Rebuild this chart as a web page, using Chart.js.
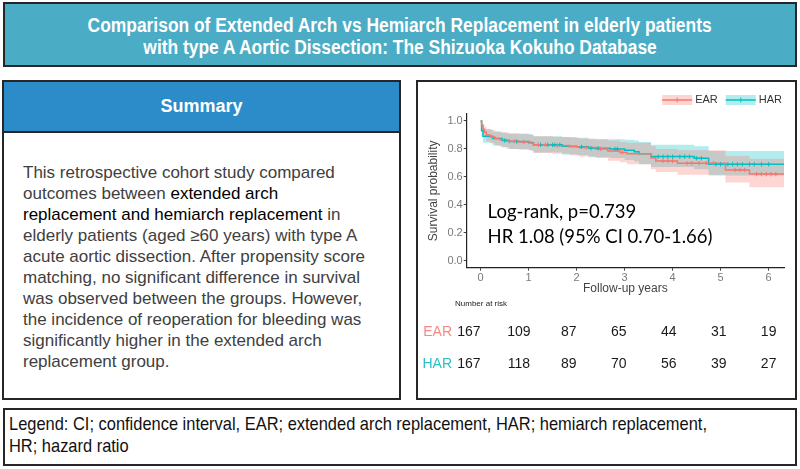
<!DOCTYPE html>
<html><head><meta charset="utf-8">
<script src="https://cdn.jsdelivr.net/npm/chart.js@4/dist/chart.umd.min.js"></script>
<style>
html,body{margin:0;padding:0;background:#fff;width:800px;height:469px;overflow:hidden;font-family:"Liberation Sans",Arial,sans-serif;}
.box{position:absolute;box-sizing:border-box;border:2px solid #262626;}
#title{left:3px;top:2px;width:794px;height:65px;background:#4BACC6;color:#fff;font-family:"Liberation Sans Narrow","Arial Narrow","Liberation Sans",sans-serif;font-weight:bold;font-size:20px;text-align:center;line-height:22px;padding-top:10px;}
#title span{display:inline-block;transform:scaleX(0.87);transform-origin:50% 50%;white-space:nowrap;}
#summary{left:2px;top:80px;width:399px;height:320px;}
#sumHead{position:absolute;left:0;top:0;right:0;height:49px;background:#2B8CC9;border-bottom:2px solid #262626;color:#fff;font-weight:bold;font-size:18px;text-align:center;line-height:49px;}
#sumBody{position:absolute;left:19px;top:80px;width:375px;font-size:17px;line-height:21px;color:#404040;white-space:nowrap;}
#sumBody b{font-weight:normal;color:#000;}
#panel{left:416px;top:80px;width:381px;height:320px;}
#chartWrap{position:absolute;left:418px;top:82px;width:377px;height:316px;}
#legendBox{left:3px;top:408px;width:794px;height:58px;font-family:"Liberation Sans Narrow","Arial Narrow","Liberation Sans",sans-serif;font-size:19px;line-height:22px;color:#111;padding:3px 0 0 4px;}
#legendBox span{display:inline-block;transform:scaleX(0.865);transform-origin:0 50%;white-space:nowrap;}
</style></head>
<body>
<div id="title" class="box"><span>Comparison of Extended Arch vs Hemiarch Replacement in elderly patients</span><br><span>with type A Aortic Dissection: The Shizuoka Kokuho Database</span></div>
<div id="summary" class="box">
  <div id="sumHead">Summary</div>
  <div id="sumBody">This retrospective cohort study compared<br>outcomes between <b>extended arch</b><br><b>replacement and hemiarch replacement</b> in<br>elderly patients (aged ≥60 years) with type A<br>acute aortic dissection. After propensity score<br>matching, no significant difference in survival<br>was observed between the groups. However,<br>the incidence of reoperation for bleeding was<br>significantly higher in the extended arch<br>replacement group.</div>
</div>
<div id="panel" class="box"></div>
<div id="chartWrap"><canvas id="km" width="377" height="316"></canvas></div>
<div id="legendBox" class="box"><span>Legend: CI; confidence interval, EAR; extended arch replacement, HAR; hemiarch replacement,</span><br><span>HR; hazard ratio</span></div>
<script>
// ---- data ----
const groups = ['EAR', 'HAR'];
const years = [0, 1, 2, 3, 4, 5, 6];
const yTicks = [0, 0.2, 0.4, 0.6, 0.8, 1.0];

const earTime  = [0, 0.02, 0.05, 0.08, 0.12, 0.2, 0.3, 0.4, 0.55, 0.8, 1.05, 1.1, 1.5, 1.85, 2.05, 2.4, 2.65, 2.9, 3.05, 3.55, 3.65, 4.1, 5.1, 5.6, 6.32];
const earSurv  = [1.0, 0.97, 0.94, 0.92, 0.90, 0.885, 0.875, 0.865, 0.855, 0.85, 0.84, 0.83, 0.825, 0.815, 0.81, 0.80, 0.785, 0.775, 0.765, 0.735, 0.714, 0.698, 0.65, 0.62, 0.62];
const earLower = [1.0, 0.94, 0.905, 0.88, 0.855, 0.84, 0.825, 0.815, 0.80, 0.795, 0.785, 0.77, 0.765, 0.755, 0.745, 0.735, 0.715, 0.705, 0.69, 0.655, 0.635, 0.615, 0.56, 0.525, 0.525];
const earUpper = [1.0, 0.995, 0.975, 0.96, 0.945, 0.935, 0.925, 0.92, 0.91, 0.905, 0.90, 0.89, 0.885, 0.88, 0.875, 0.87, 0.86, 0.85, 0.845, 0.82, 0.80, 0.79, 0.75, 0.73, 0.73];

const harTime  = [0, 0.02, 0.05, 0.25, 0.45, 0.6, 1.0, 1.1, 1.7, 2.0, 2.25, 2.7, 3.0, 3.2, 3.3, 3.55, 4.45, 4.75, 6.32];
const harSurv  = [1.0, 0.93, 0.89, 0.875, 0.86, 0.853, 0.845, 0.83, 0.82, 0.815, 0.805, 0.80, 0.79, 0.78, 0.765, 0.745, 0.733, 0.69, 0.69];
const harLower = [1.0, 0.89, 0.845, 0.825, 0.81, 0.80, 0.79, 0.775, 0.76, 0.755, 0.74, 0.735, 0.72, 0.71, 0.69, 0.67, 0.655, 0.61, 0.61];
const harUpper = [1.0, 0.97, 0.94, 0.925, 0.915, 0.91, 0.905, 0.89, 0.885, 0.88, 0.87, 0.87, 0.865, 0.86, 0.85, 0.83, 0.82, 0.785, 0.785];

const earCensor = [0.6, 0.7, 0.9, 1.2, 1.35, 1.6, 2.2, 2.5, 2.95, 3.8, 3.9, 4.0, 4.3, 4.4, 4.55, 4.7, 4.85, 5.3, 5.4, 5.5, 5.75, 5.85, 5.95, 6.05, 6.15];
const harCensor = [0.5, 0.75, 1.25, 1.4, 1.5, 1.55, 1.65, 2.1, 2.3, 2.45, 2.8, 2.85, 3.7, 3.8, 3.9, 4.0, 4.15, 4.25, 4.35, 4.5, 4.6, 4.9, 5.0, 5.15, 5.25, 5.35, 5.45, 5.6, 5.7, 5.85, 6.0];

const riskEAR = [167, 109, 87, 65, 44, 31, 19];
const riskHAR = [167, 118, 89, 70, 56, 39, 27];
const annotLines = ['Log-rank, p=0.739', 'HR 1.08 (95% CI 0.70-1.66)'];

// ---- styles ----
const lineCol = {EAR: '#F8766D', HAR: '#00BFC4'};
const bandCol = {EAR: 'rgba(248,118,109,0.3)', HAR: 'rgba(0,191,196,0.3)'};

function pts(t, v) { return t.map((x, i) => ({x: x, y: v[i]})); }
function survAt(t, s, x) { let v = s[0]; for (let i = 0; i < t.length; i++) if (t[i] <= x) v = s[i]; return v; }

const series = {
  EAR: {t: earTime, s: earSurv, lo: earLower, hi: earUpper, c: earCensor},
  HAR: {t: harTime, s: harSurv, lo: harLower, hi: harUpper, c: harCensor}
};

const datasets = [];
groups.forEach(g => {
  const d = series[g];
  datasets.push({label: g + ' upper', data: pts(d.t, d.hi), stepped: 'before', borderWidth: 0, pointRadius: 0, fill: false, order: 10});
  datasets.push({label: g + ' lower', data: pts(d.t, d.lo), stepped: 'before', borderWidth: 0, pointRadius: 0, fill: '-1', backgroundColor: bandCol[g], order: 10});
});
groups.forEach(g => {
  const d = series[g];
  datasets.push({label: g, data: pts(d.t, d.s), stepped: 'before', borderColor: lineCol[g], borderWidth: 1.5, pointRadius: 0, fill: false, order: 2});
});
groups.forEach(g => {
  const d = series[g];
  datasets.push({label: g + ' censor', data: d.c.map(x => ({x: x, y: survAt(d.t, d.s, x)})), showLine: false,
    pointStyle: 'cross', pointRadius: 2.2, pointBorderWidth: 1, pointBorderColor: lineCol[g], pointBackgroundColor: lineCol[g], order: 1});
});

const overlay = {
  id: 'overlay',
  afterDraw(chart) {
    const {ctx, chartArea: ca, scales: {x, y}} = chart;
    ctx.save();
    // annotation text
    let fs = 21;
    ctx.font = fs + 'px Lato';
    const w = ctx.measureText(annotLines[1]).width;
    fs = fs * 225 / w;
    ctx.font = fs.toFixed(2) + 'px Lato';
    ctx.fillStyle = '#000';
    ctx.textAlign = 'left';
    ctx.textBaseline = 'middle';
    const ax = x.getPixelForValue(0) + 7;
    ctx.fillText(annotLines[0], ax, y.getPixelForValue(0.35));
    ctx.fillText(annotLines[1], ax, y.getPixelForValue(0.17));

    // legend (top right)
    ctx.font = '11px "Liberation Sans"';
    let right = ca.right - 2;
    const ly = 18;
    for (let i = groups.length - 1; i >= 0; i--) {
      const g = groups[i];
      const tw = ctx.measureText(g).width;
      ctx.fillStyle = '#333';
      ctx.textAlign = 'left';
      ctx.fillText(g, right - tw, ly);
      const kx = right - tw - 3 - 30;
      ctx.fillStyle = bandCol[g];
      ctx.fillRect(kx, ly - 5, 30, 10);
      ctx.strokeStyle = lineCol[g];
      ctx.lineWidth = 1.5;
      ctx.beginPath(); ctx.moveTo(kx, ly); ctx.lineTo(kx + 30, ly); ctx.stroke();
      ctx.lineWidth = 1;
      ctx.beginPath(); ctx.moveTo(kx + 15, ly - 2.5); ctx.lineTo(kx + 15, ly + 2.5); ctx.stroke();
      right = kx - 8;
    }

    // number at risk table
    ctx.fillStyle = '#222';
    ctx.font = '8px "Liberation Sans"';
    ctx.textAlign = 'left';
    ctx.fillText('Number at risk', 37, 222);
    const left = x.getPixelForValue(years[0]) - 11.7;
    const rgt = x.getPixelForValue(years[years.length - 1]);
    const rows = [{g: 'EAR', v: riskEAR, yy: 250}, {g: 'HAR', v: riskHAR, yy: 282}];
    rows.forEach(r => {
      ctx.font = '14px "Liberation Sans"';
      ctx.textAlign = 'right';
      ctx.fillStyle = r.g === 'EAR' ? '#F58A84' : '#2BBFC4';
      ctx.fillText(r.g, 34, r.yy);
      ctx.textAlign = 'center';
      ctx.fillStyle = '#1a1a1a';
      r.v.forEach((n, i) => {
        const px = left + (rgt - left) * (years[i] - years[0]) / (years[years.length - 1] - years[0]);
        ctx.fillText(String(n), px, r.yy);
      });
    });
    ctx.restore();
  }
};

new Chart(document.getElementById('km').getContext('2d'), {
  type: 'line',
  data: {datasets: datasets},
  options: {
    responsive: false, animation: false, devicePixelRatio: 1,
    layout: {padding: {top: 32, right: 11, bottom: 100.3, left: 0}},
    plugins: {legend: {display: false}, tooltip: {enabled: false}},
    scales: {
      x: {
        type: 'linear', min: -0.29, max: 6.32,
        afterBuildTicks: s => { s.ticks = years.map(v => ({value: v})); },
        afterFit: s => { s.height = 30; },
        ticks: {color: '#7a7a7a', font: {size: 11, family: 'Liberation Sans'}, padding: 1, maxRotation: 0, autoSkip: false, callback: v => String(v)},
        grid: {display: true, drawOnChartArea: false, drawTicks: true, tickLength: 3, color: '#444'},
        border: {display: true, color: '#222', width: 1.2},
        title: {display: true, text: 'Follow-up years', color: '#444', font: {size: 12, family: 'Liberation Sans'}, padding: {top: 0, bottom: 2}}
      },
      y: {
        type: 'linear', min: -0.05, max: 1.05,
        afterBuildTicks: s => { s.ticks = yTicks.map(v => ({value: v})); },
        afterFit: s => { s.width = 48.7; },
        ticks: {color: '#7a7a7a', font: {size: 11, family: 'Liberation Sans'}, padding: 1, autoSkip: false, callback: v => Number(v).toFixed(1)},
        grid: {display: true, drawOnChartArea: false, drawTicks: true, tickLength: 3, color: '#444'},
        border: {display: true, color: '#222', width: 1.2},
        title: {display: true, text: 'Survival probability', color: '#444', font: {size: 12, family: 'Liberation Sans'}, padding: {top: 8, bottom: 0}}
      }
    }
  },
  plugins: [overlay]
});
</script>
</body></html>
